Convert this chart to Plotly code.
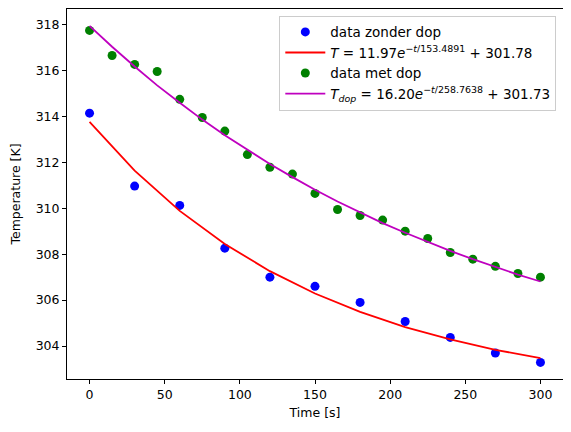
import plotly.graph_objects as go

# metingen zonder dop (elke 30 s)
t_zonder = [0, 30, 60, 90, 120, 150, 180, 210, 240, 270, 300]
T_zonder = [314.13, 310.96, 310.12, 308.26, 307.0, 306.6, 305.9, 305.07, 304.38, 303.7, 303.29]
fit_zonder = [313.75, 311.63, 309.88, 308.44, 307.26, 306.29, 305.49, 304.83, 304.29, 303.84, 303.48]

# metingen met dop (elke 15 s)
t_met = [0, 15, 30, 45, 60, 75, 90, 105, 120, 135, 150, 165, 180, 195, 210, 225, 240, 255, 270, 285, 300]
T_met = [317.73, 316.64, 316.25, 315.94, 314.73, 313.94, 313.35, 312.33, 311.78, 311.48, 310.64,
         309.94, 309.68, 309.48, 309.0, 308.68, 308.07, 307.78, 307.47, 307.16, 307.0]
fit_met = [317.93, 317.02, 316.16, 315.34, 314.58, 313.85, 313.17, 312.53, 311.92, 311.35, 310.80,
           310.29, 309.81, 309.35, 308.93, 308.52, 308.14, 307.78, 307.44, 307.11, 306.81]

x_ticks = [0, 50, 100, 150, 200, 250, 300]
y_ticks = [304, 306, 308, 310, 312, 314, 316, 318]

BLACK = 'black'
FONT = 'DejaVu Sans'

fig = go.Figure()
fig.add_trace(go.Scatter(x=t_zonder, y=T_zonder, mode='markers', name='data zonder dop',
                         marker=dict(color='#0000ff', size=9)))
fig.add_trace(go.Scatter(x=t_zonder, y=fit_zonder, mode='lines',
                         name='<i>T</i> = 11.97<i>e</i><sup>−<i>t</i>/153.4891</sup> + 301.78',
                         line=dict(color='#ff0000', width=1.8)))
fig.add_trace(go.Scatter(x=t_met, y=T_met, mode='markers', name='data met dop',
                         marker=dict(color='#008000', size=9)))
fig.add_trace(go.Scatter(x=t_met, y=fit_met, mode='lines',
                         name='<i>T<sub>dop</sub></i> = 16.20<i>e</i><sup>−<i>t</i>/258.7638</sup> + 301.73',
                         line=dict(color='#bf00bf', width=1.8)))

# the page has an 8px body margin, so the figure is a bit smaller than the window
fig.update_layout(
    width=563, height=424,
    margin=dict(l=59, r=8, t=1, b=53),
    plot_bgcolor='white', paper_bgcolor='white',
    font=dict(family=FONT, size=12.5, color=BLACK),
    legend=dict(x=0.9865, y=0.982, xanchor='right', yanchor='top',
                bgcolor='rgba(255,255,255,0.8)', bordercolor='#cccccc', borderwidth=1,
                font=dict(size=13.5), tracegroupgap=0, itemwidth=40),
)
fig.update_xaxes(title=dict(text='Time [s]', font=dict(size=12.5), standoff=7),
                 range=[-15, 315], tickvals=x_ticks, showgrid=False, zeroline=False,
                 showline=True, linecolor=BLACK, linewidth=1, mirror=True,
                 ticks='outside', ticklen=4, tickcolor=BLACK, automargin=False)
fig.update_yaxes(title=dict(text='Temperature [K]', font=dict(size=12.5), standoff=12),
                 range=[302.57, 318.66], tickvals=y_ticks, showgrid=False, zeroline=False,
                 showline=True, linecolor=BLACK, linewidth=1, mirror=True,
                 ticks='outside', ticklen=4, tickcolor=BLACK, automargin=False)

fig.write_html("out.html")
